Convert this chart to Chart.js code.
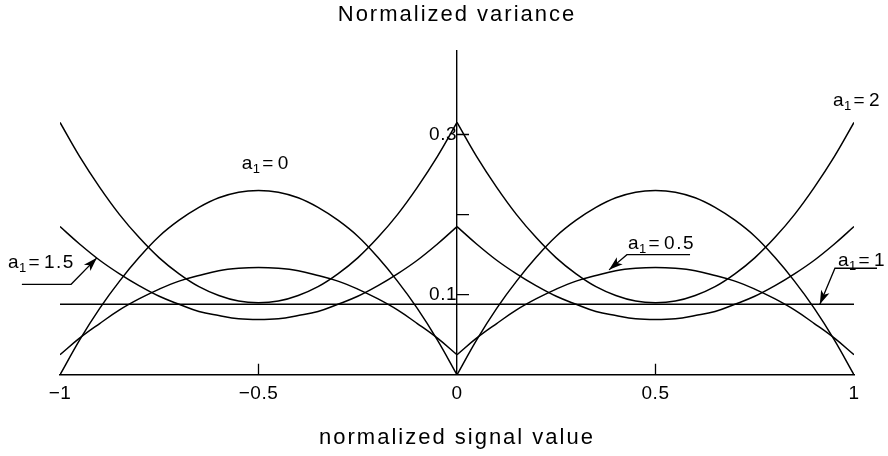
<!DOCTYPE html>
<html lang="en">
<head>
<meta charset="utf-8">
<title>Normalized variance</title>
<script src="https://cdn.jsdelivr.net/npm/chart.js@4"></script>
<style>
    html, body { margin: 0; padding: 0; background: #fff; }
    .wrap { width: 888px; height: 456px; }
</style>
</head>
<body>
<div class="wrap"><canvas id="varChart"></canvas></div>
<script>
    // position inside one quantisation step (0..1); the same profile repeats on [-1,0] and [0,1]
    const phase = [0, 0.05, 0.1, 0.15, 0.2, 0.25, 0.3, 0.35, 0.4, 0.45, 0.5,
                   0.55, 0.6, 0.65, 0.7, 0.75, 0.8, 0.85, 0.9, 0.95, 1];

    // normalized variance for each a1
    const a1Zero    = [0, 0.044, 0.083, 0.117, 0.147, 0.173, 0.193, 0.209, 0.221, 0.228, 0.230,
                       0.228, 0.221, 0.209, 0.193, 0.173, 0.147, 0.117, 0.083, 0.044, 0];
    const a1Half    = [0.025, 0.046, 0.064, 0.081, 0.095, 0.107, 0.117, 0.124, 0.130, 0.133, 0.134,
                       0.133, 0.130, 0.124, 0.117, 0.107, 0.095, 0.081, 0.064, 0.046, 0.025];
    const a1One     = [0.088, 0.088, 0.088, 0.088, 0.088, 0.088, 0.088, 0.088, 0.088, 0.088, 0.088,
                       0.088, 0.088, 0.088, 0.088, 0.088, 0.088, 0.088, 0.088, 0.088, 0.088];
    const a1OneHalf = [0.185, 0.163, 0.143, 0.126, 0.111, 0.098, 0.088, 0.079, 0.074, 0.070, 0.069,
                       0.070, 0.074, 0.079, 0.088, 0.098, 0.111, 0.126, 0.143, 0.163, 0.185];
    const a1Two     = [0.315, 0.272, 0.234, 0.200, 0.171, 0.146, 0.126, 0.110, 0.099, 0.092, 0.090,
                       0.092, 0.099, 0.110, 0.126, 0.146, 0.171, 0.200, 0.234, 0.272, 0.315];

    const xTicks = [-1, -0.5, 0, 0.5, 1];
    const xTickLabels = ['\u22121', '\u22120.5', '0', '0.5', '1'];
    const xInnerTicks = [-0.5, 0.5];
    const yTicks = [0.1, 0.2, 0.3];
    const yTickLabels = ['0.1', '', '0.3'];

    // curve labels, placed in data units; leader ends in an arrow
    const curveLabels = [
        { value: '0',   x: -0.542, y: 0.257 },
        { value: '2',   x: 0.947,  y: 0.336 },
        { value: '1.5', x: -1.131, y: 0.133, leader: [[-1.096, 0.113], [-0.972, 0.113], [-0.907, 0.146]] },
        { value: '0.5', x: 0.431,  y: 0.157, leader: [[0.587, 0.150], [0.428, 0.150], [0.383, 0.131]] },
        { value: '1',   x: 0.960,  y: 0.136, leader: [[1.058, 0.133], [0.952, 0.133], [0.914, 0.088]] }
    ];

    const FONT = '"Liberation Sans", Arial, sans-serif';

    const datasets = [];
    [a1Zero, a1Half, a1One, a1OneHalf, a1Two].forEach(vals => {
        // each half drawn on its own so the cusps at -1, 0 and 1 stay sharp
        [-1, 0].forEach(offset => {
            datasets.push({
                data: phase.map((u, i) => ({ x: u + offset, y: vals[i] })),
                borderColor: '#000',
                borderWidth: 1.5,
                pointRadius: 0,
                tension: 0.4,
                fill: false
            });
        });
    });

    function drawA1(ctx, px, py, value) {
        ctx.fillStyle = '#000';
        ctx.textAlign = 'left';
        ctx.textBaseline = 'alphabetic';
        ctx.letterSpacing = '0px';
        ctx.font = '19px ' + FONT;
        ctx.fillText('a', px, py);
        ctx.font = '13px ' + FONT;
        ctx.fillText('1', px + 11, py + 4);
        ctx.font = '19px ' + FONT;
        ctx.fillText('=', px + 20.5, py);
        ctx.letterSpacing = '1.5px';
        ctx.fillText(value, px + 36, py);
        ctx.letterSpacing = '0px';
    }

    function drawLeader(ctx, pts) {
        ctx.beginPath();
        ctx.moveTo(pts[0][0], pts[0][1]);
        for (let i = 1; i < pts.length; i++) ctx.lineTo(pts[i][0], pts[i][1]);
        ctx.stroke();
        const [ax, ay] = pts[pts.length - 2];
        const [bx, by] = pts[pts.length - 1];
        const ang = Math.atan2(by - ay, bx - ax);
        const c = Math.cos(ang), s = Math.sin(ang);
        const len = 14, half = 4.5;
        ctx.beginPath();
        ctx.moveTo(bx, by);
        ctx.lineTo(bx - len * c + half * s, by - len * s - half * c);
        ctx.lineTo(bx - len * c * 0.75, by - len * s * 0.75);
        ctx.lineTo(bx - len * c - half * s, by - len * s + half * c);
        ctx.closePath();
        ctx.fill();
    }

    const axisMarks = {
        id: 'axisMarks',
        // titles are spaced out; tick labels (drawn after the datasets, z = 1) are tight
        beforeLayout(chart) { chart.ctx.letterSpacing = '2px'; },
        beforeDraw(chart) { chart.ctx.letterSpacing = '2px'; },
        afterDatasetsDraw(chart) { chart.ctx.letterSpacing = '0.5px'; },
        afterDraw(chart) {
            const { ctx, scales: { x, y } } = chart;
            ctx.save();
            ctx.strokeStyle = '#000';
            ctx.fillStyle = '#000';
            ctx.lineWidth = 1.3;

            // inward tick marks
            const x0 = x.getPixelForValue(0);
            const y0 = y.getPixelForValue(0);
            ctx.beginPath();
            xInnerTicks.forEach(v => {
                const px = x.getPixelForValue(v);
                ctx.moveTo(px, y0);
                ctx.lineTo(px, y0 - 11);
            });
            yTicks.forEach(v => {
                const py = y.getPixelForValue(v);
                ctx.moveTo(x0, py);
                ctx.lineTo(x0 + 12, py);
            });
            ctx.stroke();

            curveLabels.forEach(lbl => {
                drawA1(ctx, x.getPixelForValue(lbl.x), y.getPixelForValue(lbl.y), lbl.value);
                if (lbl.leader) {
                    drawLeader(ctx, lbl.leader.map(p => [x.getPixelForValue(p[0]), y.getPixelForValue(p[1])]));
                }
            });
            ctx.restore();
        }
    };

    new Chart(document.getElementById('varChart'), {
        type: 'line',
        data: { datasets },
        plugins: [axisMarks],
        options: {
            responsive: true,
            maintainAspectRatio: false,
            animation: false,
            devicePixelRatio: 1,
            layout: { padding: { left: 60, right: 34, top: 0, bottom: 5 } },
            plugins: {
                legend: { display: false },
                tooltip: { enabled: false },
                title: {
                    display: true,
                    text: 'Normalized variance',
                    color: '#000',
                    font: { family: FONT, size: 22, weight: 'normal' },
                    padding: { top: 2, bottom: 22 }
                }
            },
            scales: {
                x: {
                    type: 'linear',
                    min: -1,
                    max: 1,
                    afterBuildTicks: scale => { scale.ticks = xTicks.map(v => ({ value: v })); },
                    grid: { display: false, drawTicks: false },
                    border: { display: true, color: '#000', width: 1.4 },
                    ticks: {
                        z: 1,
                        autoSkip: false,
                        maxRotation: 0,
                        padding: 8,
                        color: '#000',
                        font: { family: FONT, size: 19 },
                        callback: (v, i) => xTickLabels[i]
                    },
                    title: {
                        display: true,
                        text: 'normalized signal value',
                        color: '#000',
                        font: { family: FONT, size: 22 },
                        padding: { top: 11, bottom: 0 }
                    }
                },
                y: {
                    type: 'linear',
                    position: { x: 0 },
                    min: 0,
                    max: 0.405,
                    afterBuildTicks: scale => { scale.ticks = yTicks.map(v => ({ value: v })); },
                    grid: { display: false, drawTicks: false },
                    border: { display: true, color: '#000', width: 1.4 },
                    ticks: {
                        z: 1,
                        padding: 12,
                        color: '#000',
                        font: { family: FONT, size: 19 },
                        callback: (v, i) => yTickLabels[i]
                    }
                }
            }
        }
    });
</script>
</body>
</html>
